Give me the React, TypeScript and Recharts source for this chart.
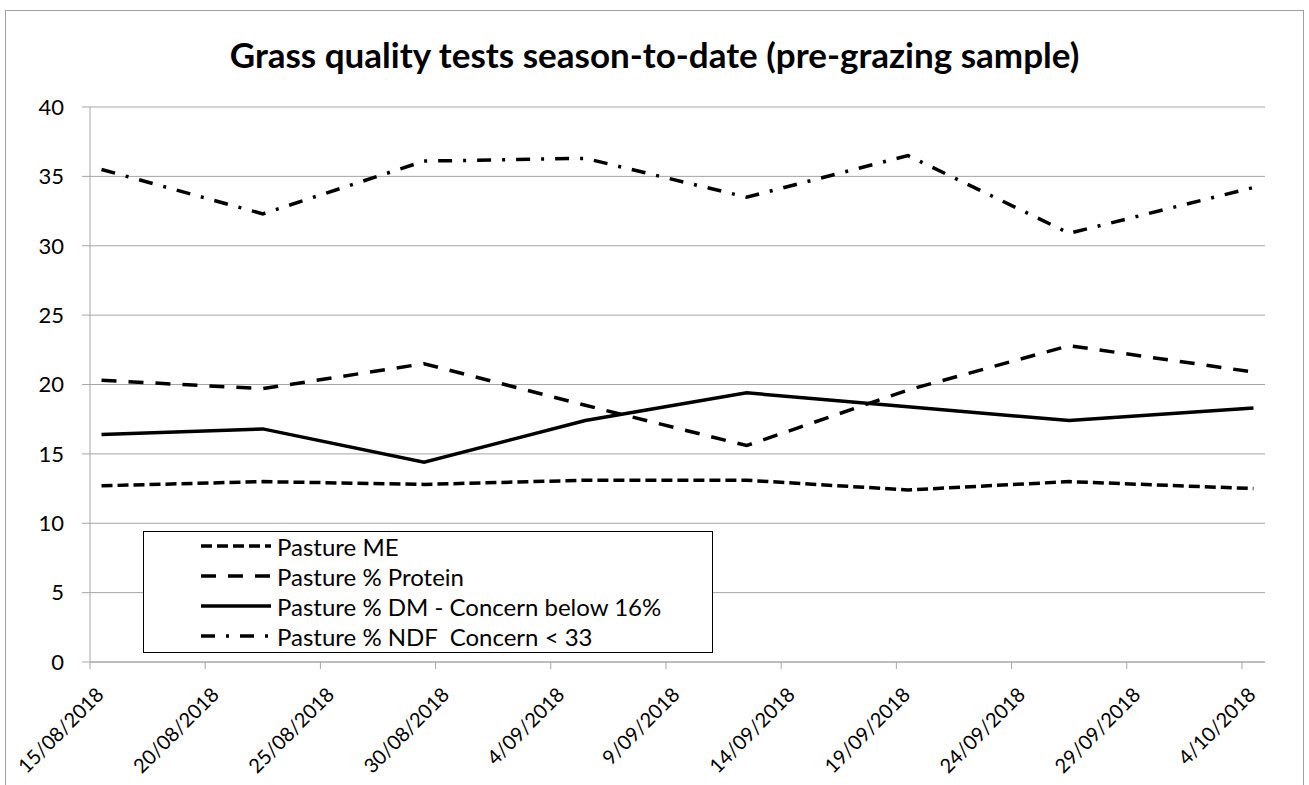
import { LineChart, Line, XAxis, YAxis, CartesianGrid, Legend } from "recharts";

const sampleDates = [
  "15/08/2018",
  "22/08/2018",
  "29/08/2018",
  "5/09/2018",
  "12/09/2018",
  "19/09/2018",
  "26/09/2018",
  "4/10/2018",
];
const pastureME = [12.7, 13.0, 12.8, 13.1, 13.1, 12.4, 13.0, 12.5];
const pastureProtein = [20.3, 19.7, 21.5, 18.5, 15.6, 19.6, 22.8, 20.9];
const pastureDM = [16.4, 16.8, 14.4, 17.4, 19.4, 18.4, 17.4, 18.3];
const pastureNDF = [35.5, 32.3, 36.1, 36.3, 33.5, 36.5, 30.9, 34.2];

const xTickLabels = [
  "15/08/2018",
  "20/08/2018",
  "25/08/2018",
  "30/08/2018",
  "4/09/2018",
  "9/09/2018",
  "14/09/2018",
  "19/09/2018",
  "24/09/2018",
  "29/09/2018",
  "4/10/2018",
];
const yTicks = [0, 5, 10, 15, 20, 25, 30, 35, 40];

const FONT = "Lato, 'Open Sans', sans-serif";
const GRID = "#a6a6a6";
const DAY = 86400000;

const toTime = (s: string) => {
  const [d, m, y] = s.split("/").map(Number);
  return Date.UTC(y, m - 1, d);
};

const tickTimes = xTickLabels.map(toTime);
// each day is a slot on the date axis, points sit in the middle of it
const data = sampleDates.map((d, i) => ({
  t: toTime(d) + DAY / 2,
  me: pastureME[i],
  protein: pastureProtein[i],
  dm: pastureDM[i],
  ndf: pastureNDF[i],
}));

const series = [
  { key: "me", name: "Pasture ME", dash: "11 5" },
  { key: "protein", name: "Pasture % Protein", dash: "15 12" },
  { key: "dm", name: "Pasture % DM - Concern below 16%", dash: undefined },
  { key: "ndf", name: "Pasture % NDF  Concern < 33", dash: "14 11 3 11" },
];

const DateTick = (props: any) => {
  const { x, y, payload } = props;
  const idx = tickTimes.indexOf(payload.value);
  const label = idx >= 0 ? xTickLabels[idx] : "";
  const px = x + 15;
  const py = y + 25;
  return (
    <text
      x={px}
      y={py}
      transform={`rotate(-45, ${px}, ${py})`}
      textAnchor="end"
      fontSize={20}
      fontFamily={FONT}
      fill="#000"
    >
      {label}
    </text>
  );
};

const renderLegend = () => (
  <div
    style={{
      width: 570,
      height: 122,
      boxSizing: "border-box",
      border: "1.5px solid #000",
      background: "#fff",
      fontFamily: FONT,
      fontSize: 24,
      color: "#000",
    }}
  >
    {series.map((s) => (
      <div
        key={s.key}
        style={{ display: "flex", alignItems: "center", height: 30, marginTop: s.key === "me" ? -1 : 0, whiteSpace: "pre" }}
      >
        <svg width={127} height={10} style={{ flex: "none" }}>
          <line
            x1={57}
            y1={5}
            x2={127}
            y2={5}
            stroke="#000"
            strokeWidth={3.5}
            strokeDasharray={s.dash}
          />
        </svg>
        <span style={{ marginLeft: 6 }}>{s.name}</span>
      </div>
    ))}
  </div>
);

export default function App() {
  return (
    <div
      style={{
        position: "absolute",
        left: 0,
        top: 0,
        width: 1309,
        height: 785,
        background: "#fff",
        overflow: "hidden",
      }}
    >
      <div
        style={{
          position: "absolute",
          left: 5,
          top: 10,
          width: 1297,
          height: 800,
          border: "1px solid #a0a0a0",
        }}
      />
      <div
        style={{
          position: "absolute",
          left: 0,
          top: 33,
          width: 1309,
          textAlign: "center",
          fontFamily: FONT,
          fontWeight: 700,
          fontSize: 35,
          color: "#000",
        }}
      >
        Grass quality tests season-to-date (pre-grazing sample)
      </div>
      <div style={{ position: "absolute", left: 0, top: 0 }}>
        <LineChart
          width={1309}
          height={785}
          data={data}
          margin={{ top: 107, right: 44, left: 10, bottom: 23 }}
        >
          <CartesianGrid vertical={false} stroke={GRID} strokeWidth={1} />
          <XAxis
            dataKey="t"
            type="number"
            domain={[tickTimes[0], tickTimes[tickTimes.length - 1] + DAY]}
            ticks={tickTimes}
            interval={0}
            height={100}
            stroke={GRID}
            tickSize={7}
            tick={<DateTick />}
            allowDataOverflow
          />
          <YAxis
            type="number"
            domain={[0, 40]}
            ticks={yTicks}
            interval={0}
            width={80}
            stroke={GRID}
            tickSize={8}
            tickMargin={18}
            tick={{ fill: "#000", fontSize: 22, fontFamily: FONT }}
          />
          <Legend
            layout="vertical"
            align="center"
            verticalAlign="middle"
            content={renderLegend}
            wrapperStyle={{ position: "absolute", left: 143, top: 531, width: 570, height: 122 }}
          />
          {series.map((s) => (
            <Line
              key={s.key}
              type="linear"
              dataKey={s.key}
              name={s.name}
              stroke="#000"
              strokeWidth={3.5}
              strokeDasharray={s.dash}
              dot={false}
              activeDot={false}
              isAnimationActive={false}
            />
          ))}
        </LineChart>
      </div>
    </div>
  );
}
